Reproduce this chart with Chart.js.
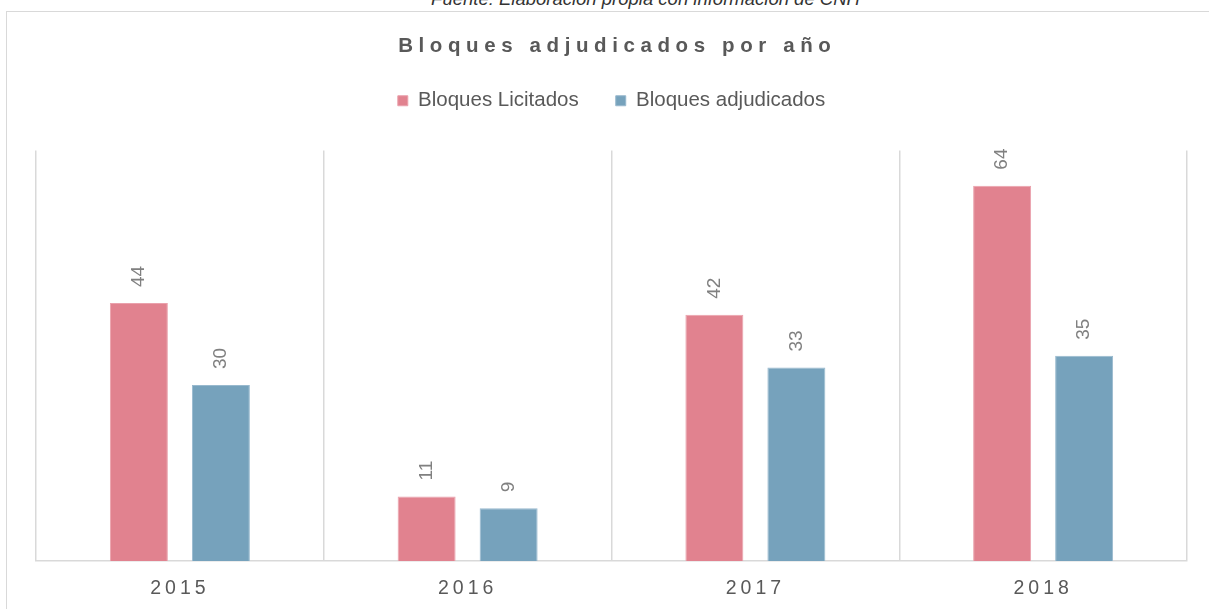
<!DOCTYPE html>
<html lang="es">
<head>
<meta charset="utf-8">
<title>Bloques adjudicados por año</title>
<script src="https://cdn.jsdelivr.net/npm/chart.js@4.4.1/dist/chart.umd.min.js"></script>
<style>
    body {
        margin: 0;
        width: 1209px;
        height: 609px;
        overflow: hidden;
        position: relative;
        background: #ffffff;
        font-family: "Liberation Sans", Arial, sans-serif;
    }
    #fuente {
        position: absolute;
        left: 0;
        width: 1291px;
        top: -9.7px;
        text-align: center;
        font-size: 18.5px;
        font-style: italic;
        line-height: 1;
        color: #333333;
        white-space: nowrap;
    }
    #marco {
        position: absolute;
        left: 6px;
        top: 11px;
        width: 1230px;
        height: 620px;
        border: 1.5px solid #d9d9d9;
    }
    #titulo {
        position: absolute;
        left: 0;
        width: 1229px;
        top: 35px;
        text-align: center;
        font-size: 20.5px;
        font-weight: bold;
        letter-spacing: 5.6px;
        padding-left: 5.6px;
        box-sizing: border-box;
        line-height: 1;
        color: #595959;
        white-space: nowrap;
    }
    #barChart {
        position: absolute;
        left: 0;
        top: 0;
    }
</style>
</head>
<body>
<div id="fuente">Fuente: Elaboración propia con información de CNH</div>
<div id="marco"></div>
<canvas id="barChart" width="1209" height="609"></canvas>
<div id="titulo">Bloques adjudicados por año</div>

<script>
// Datos
var years = ['2015', '2016', '2017', '2018'];
var licitados = [44, 11, 42, 64];
var adjudicados = [30, 9, 33, 35];
var yMax = 70;

var pink = '#e1828f';
var blue = '#76a2bc';

// etiquetas de valor giradas encima de cada barra
var valueLabels = {
    id: 'valueLabels',
    beforeDraw: function (chart) {
        chart.ctx.letterSpacing = '0px';
    },
    afterDatasetsDraw: function (chart) {
        var ctx = chart.ctx;
        ctx.save();
        ctx.font = '19px "Liberation Sans", Arial, sans-serif';
        ctx.fillStyle = '#808080';
        ctx.textAlign = 'left';
        ctx.textBaseline = 'middle';
        chart.data.datasets.forEach(function (ds, i) {
            var meta = chart.getDatasetMeta(i);
            meta.data.forEach(function (bar, j) {
                ctx.save();
                ctx.translate(bar.x, bar.y - 16);
                ctx.rotate(-Math.PI / 2);
                ctx.fillText(String(ds.data[j]), 0, 0);
                ctx.restore();
            });
        });
        ctx.restore();
        // los años del eje se dibujan despues (ticks.z = 1) con espaciado
        ctx.letterSpacing = '4px';
    }
};

// espacio extra entre la leyenda y el grafico
var legendMargin = {
    id: 'legendMargin',
    beforeInit: function (chart) {
        var fitValue = chart.legend.fit;
        chart.legend.fit = function fit() {
            fitValue.bind(chart.legend)();
            this.height += 29.5;
        };
    }
};

var ctx = document.getElementById('barChart').getContext('2d');
var myChart = new Chart(ctx, {
    type: 'bar',
    data: {
        labels: years,
        datasets: [{
            label: 'Bloques Licitados',
            data: licitados,
            backgroundColor: pink,
            borderColor: '#eaa1ac',
            borderWidth: 1
        }, {
            label: 'Bloques adjudicados',
            data: adjudicados,
            backgroundColor: blue,
            borderColor: '#98b9ce',
            borderWidth: 1
        }]
    },
    options: {
        responsive: false,
        animation: false,
        layout: {
            padding: { top: 53.5, left: 36, right: 22, bottom: 10 }
        },
        datasets: {
            bar: {
                categoryPercentage: 0.57,
                barPercentage: 0.707
            }
        },
        scales: {
            x: {
                afterFit: function (scale) {
                    scale.height = 38;
                },
                grid: {
                    display: true,
                    offset: true,
                    color: '#d9d9d9',
                    lineWidth: 1.5,
                    drawTicks: false
                },
                border: {
                    display: true,
                    color: '#d9d9d9',
                    width: 1.5
                },
                ticks: {
                    z: 1,
                    padding: 16,
                    color: '#595959',
                    font: { family: '"Liberation Sans", Arial, sans-serif', size: 19.5 }
                }
            },
            y: {
                display: false,
                min: 0,
                max: yMax
            }
        },
        plugins: {
            legend: {
                position: 'top',
                labels: {
                    boxWidth: 10,
                    boxHeight: 10,
                    padding: 37,
                    color: '#595959',
                    font: { family: '"Liberation Sans", Arial, sans-serif', size: 20.5 }
                }
            },
            title: { display: false },
            tooltip: { enabled: false }
        }
    },
    plugins: [valueLabels, legendMargin]
});
</script>
</body>
</html>
